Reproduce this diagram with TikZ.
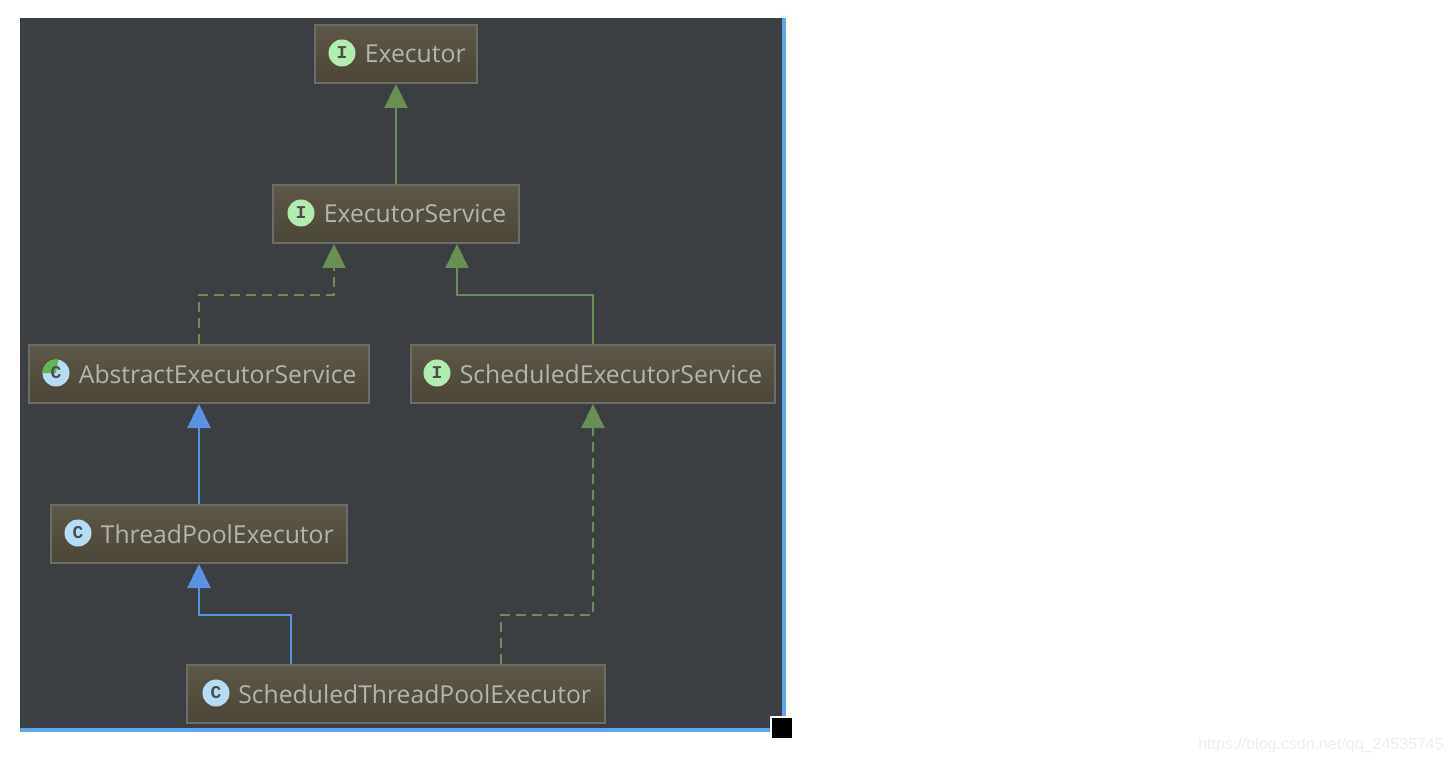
\documentclass[tikz,border=0pt]{standalone}
\usepackage{fontspec}
\setmainfont{Open Sans}
\newfontfamily\iconfont{Liberation Mono}
\newfontfamily\markfont{Liberation Sans}
\usetikzlibrary{arrows.meta, positioning}
\definecolor{panelbg}{HTML}{3C3F41}
\definecolor{panelblue}{HTML}{5FA4EE}
\definecolor{boxtop}{HTML}{5F5849}
\definecolor{boxbottom}{HTML}{4A4536}
\definecolor{boxline}{HTML}{6C6D6A}
\definecolor{labelgray}{HTML}{B4B4B0}
\definecolor{implgreen}{HTML}{6A8F55}
\definecolor{extblue}{HTML}{5A92E6}
\definecolor{ifacefill}{HTML}{B2EDB0}
\definecolor{classfill}{HTML}{B5DDF5}
\definecolor{abstractgreen}{HTML}{5FB84F}
\tikzstyle{classbox}=[draw=boxline, line width=2pt, top color=boxtop, bottom color=boxbottom, inner sep=0pt, minimum height=58pt]
\tikzstyle{classname}=[text=labelgray, inner sep=0pt, yshift=-1pt, font=\fontsize{24.7}{30}\selectfont]
\tikzstyle{icon}=[circle, inner sep=0pt, minimum size=27pt, text=black!70, font=\iconfont\bfseries\fontsize{18}{18}\selectfont]
\tikzstyle{ifaceicon}=[icon, fill=ifacefill]
\tikzstyle{classicon}=[icon, fill=classfill]
\tikzstyle{abstracticon}=[classicon, path picture={\fill[abstractgreen] (path picture bounding box.center) -- ++(180:15pt) arc (180:80:15pt) -- cycle;}]
\tikzstyle{implements}=[draw=implgreen, line width=2.3pt, -{Triangle[width=23pt,length=24pt,fill=implgreen]}]
\tikzstyle{extends}=[draw=extblue, line width=2.3pt, -{Triangle[width=23pt,length=24pt,fill=extblue]}]
\tikzstyle{dashline}=[dash pattern=on 10pt off 6pt]
\newcommand{\classbox}{\node[classbox]}
\begin{document}
\begin{tikzpicture}[x=1pt, y=-1pt]
    \useasboundingbox (0,0) rectangle (1452,762);
    % panel
    \fill[panelblue] (20,18) rectangle (786,732);
    \fill[panelbg] (20,18) rectangle (782,728);
    \fill[white] (770,716) rectangle (794,740);
    \fill[black] (772,718) rectangle (792,738);

    % classes
    \classbox[minimum width=162pt] (executor) at (396,54) {};
    \node[ifaceicon] (executoricon) at (342,53) {I};
    \node[classname, right=9pt of executoricon] (executorname) {Executor};

    \classbox[minimum width=246pt] (service) at (396,214) {};
    \node[ifaceicon] (serviceicon) at (301,213) {I};
    \node[classname, right=9pt of serviceicon] (servicename) {ExecutorService};

    \classbox[minimum width=340pt] (abstract) at (199,374) {};
    \node[abstracticon] (abstracticon) at (56,373) {C};
    \node[classname, right=9pt of abstracticon] (abstractname) {AbstractExecutorService};

    \classbox[minimum width=364pt] (scheduled) at (593,374) {};
    \node[ifaceicon] (scheduledicon) at (437,373) {I};
    \node[classname, right=9pt of scheduledicon] (scheduledname) {ScheduledExecutorService};

    \classbox[minimum width=296pt] (pool) at (199,534) {};
    \node[classicon] (poolicon) at (78,533) {C};
    \node[classname, right=9pt of poolicon] (poolname) {ThreadPoolExecutor};

    \classbox[minimum width=418pt] (stpe) at (396,694) {};
    \node[classicon] (stpeicon) at (216,693) {C};
    \node[classname, right=8.5pt of stpeicon] (stpename) {ScheduledThreadPoolExecutor};

    % bends
    \coordinate (bendabstract) at (334,295);
    \coordinate (bendscheduled) at (457,295);
    \coordinate (bendpool) at (291,615);
    \coordinate (bendstpe) at (501,615);

    % connectors
    \draw[implements] (service.north) -- (executor.south);
    \draw[implements, dashline] (abstract.north) |- (bendabstract) -- (service.south -| bendabstract);
    \draw[implements] (scheduled.north) |- (bendscheduled) -- (service.south -| bendscheduled);
    \draw[extends] (pool.north) -- (abstract.south);
    \draw[extends] (stpe.north -| bendpool) -- (bendpool) -| (pool.south);
    \draw[implements, dashline] (stpe.north -| bendstpe) -- (bendstpe) -| (scheduled.south);

    \node[text=black!7, inner sep=0pt, anchor=east, font=\markfont\fontsize{16}{20}\selectfont] (watermark) at (1444,745) {https://blog.csdn.net/qq\_24535745};
\end{tikzpicture}
\end{document}
